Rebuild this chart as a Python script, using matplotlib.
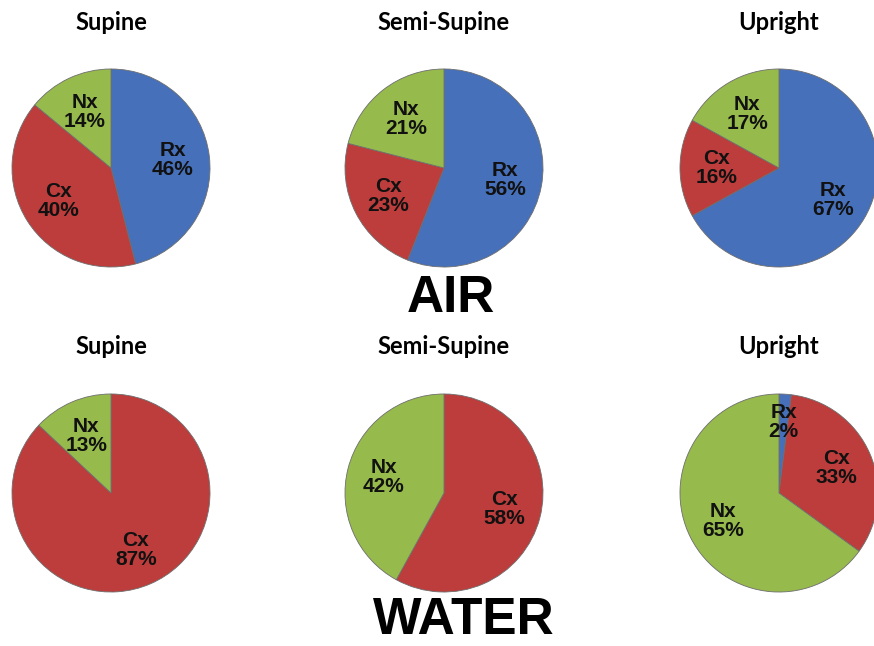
import numpy as np
import matplotlib
matplotlib.use("Agg")
import matplotlib.pyplot as plt

# share of each component (Rx, Cx, Nx) by posture
components = ["Rx", "Cx", "Nx"]
postures = ["Supine", "Semi-Supine", "Upright"]
air_values = [
    [46, 40, 14],
    [56, 23, 21],
    [67, 16, 17],
]
water_values = [
    [0, 87, 13],
    [0, 58, 42],
    [2, 33, 65],
]
colors = ["#4670B9", "#BC3D3B", "#96BA4B"]

W, H = 874, 646
fig = plt.figure(figsize=(W / 100, H / 100), dpi=100)
fig.patch.set_facecolor("white")

centers_x = [111, 444, 779]
row_y = [168, 493]
title_y = [22, 346]
R = 100


def draw_pie(cx, cy, vals):
    ax = fig.add_axes([(cx - R) / W, 1 - (cy + R) / H, 2 * R / W, 2 * R / H])
    wedges, _ = ax.pie(vals, colors=colors, startangle=90, counterclock=False,
                       radius=1, wedgeprops=dict(edgecolor="#6e6e6e", linewidth=0.6))
    for w, name, v in zip(wedges, components, vals):
        if v == 0:
            continue
        ang = np.deg2rad((w.theta1 + w.theta2) / 2)
        d = 0.63 if v > 5 else 0.72
        ax.text(d * np.cos(ang), d * np.sin(ang), f"{name}\n{v}%",
                ha="center", va="center", fontsize=15, fontweight="bold",
                family="Liberation Sans", linespacing=1.0, color="#111111")
    ax.set_xlim(-1.01, 1.01)
    ax.set_ylim(-1.01, 1.01)
    ax.set_aspect("equal")
    ax.axis("off")


for row, data in enumerate([air_values, water_values]):
    for cx, name, vals in zip(centers_x, postures, data):
        draw_pie(cx, row_y[row], vals)
        fig.text(cx / W, 1 - title_y[row] / H, name, ha="center", va="center",
                 fontsize=17, fontweight="bold", family="Lato")

fig.text(451 / W, 1 - 298 / H, "AIR", ha="center", va="center",
         fontsize=37, fontweight="bold", family="Liberation Sans")
fig.text(464 / W, 1 - 621 / H, "WATER", ha="center", va="center",
         fontsize=37, fontweight="bold", family="Liberation Sans")

fig.savefig("out.png", dpi=100, facecolor="white")
